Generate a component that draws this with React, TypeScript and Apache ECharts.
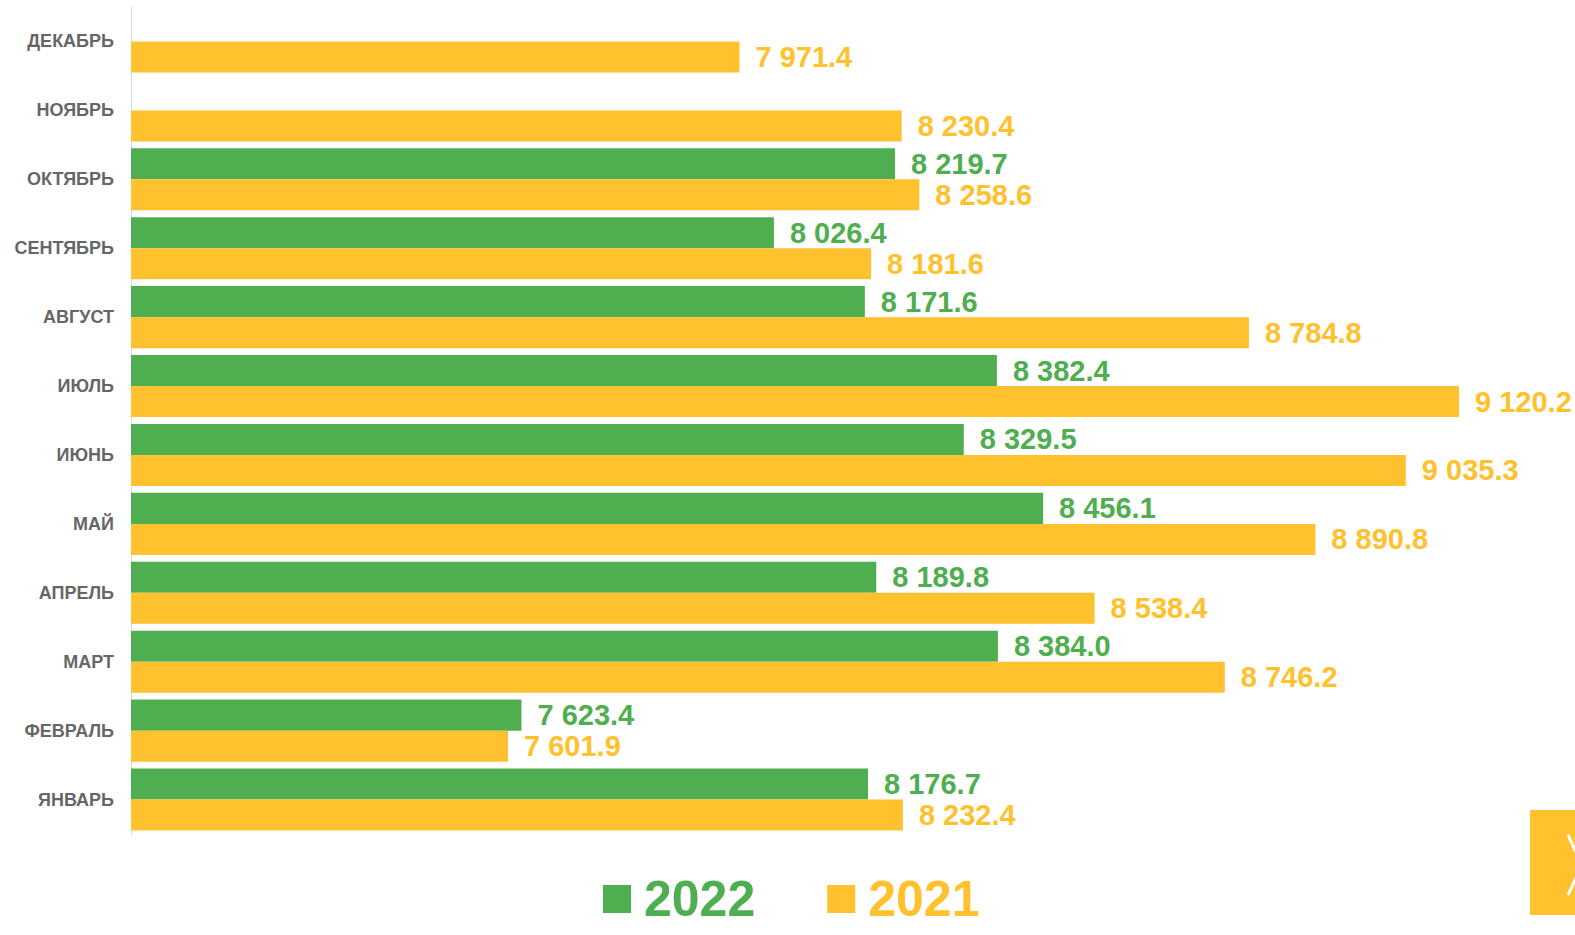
import React, { useEffect, useRef } from "react";
import * as echarts from "echarts";

const categories = ["ЯНВАРЬ", "ФЕВРАЛЬ", "МАРТ", "АПРЕЛЬ", "МАЙ", "ИЮНЬ", "ИЮЛЬ", "АВГУСТ", "СЕНТЯБРЬ", "ОКТЯБРЬ", "НОЯБРЬ", "ДЕКАБРЬ"];
const values2022: (number | null)[] = [8176.7, 7623.4, 8384.0, 8189.8, 8456.1, 8329.5, 8382.4, 8171.6, 8026.4, 8219.7, null, null];
const values2021: number[] = [8232.4, 7601.9, 8746.2, 8538.4, 8890.8, 9035.3, 9120.2, 8784.8, 8181.6, 8258.6, 8230.4, 7971.4];
const seriesNames = ["2022", "2021"];

const GREEN = "#4fae4f";
const YELLOW = "#ffc12d";
const FONT = "'Liberation Sans', Arial, sans-serif";

function fmt(v: number): string {
  const s = v.toFixed(1);
  const [i, d] = s.split(".");
  return i.replace(/\B(?=(\d{3})+(?!\d))/g, " ") + "." + d;
}

export default function App() {
  const ref = useRef<HTMLDivElement>(null);
  useEffect(() => {
    if (!ref.current) return;
    const chart = echarts.init(ref.current, null, { renderer: "svg" });
    const labelStyle = (color: string) => ({
      show: true,
      position: "right" as const,
      distance: 16,
      color,
      fontSize: 29,
      fontWeight: "bold" as const,
      fontFamily: FONT,
      formatter: (p: any) => (p.value == null ? "" : fmt(p.value)),
    });
    chart.setOption({
      animation: false,
      backgroundColor: "#ffffff",
      grid: { left: 131, top: 7, bottom: 101, width: 1378, containLabel: false },
      xAxis: {
        type: "value",
        min: 7000,
        max: 9200,
        show: false,
      },
      yAxis: {
        type: "category",
        data: categories,
        axisLine: { show: true, lineStyle: { color: "#d9d9d9", width: 1 } },
        axisTick: { show: false },
        axisLabel: {
          color: "#666666",
          fontSize: 18,
          fontWeight: "bold",
          fontFamily: FONT,
          margin: 17,
        },
        splitLine: { show: false },
      },
      legend: {
        left: 603,
        top: 874,
        itemWidth: 28,
        itemHeight: 28,
        itemGap: 72,
        icon: "rect",
        padding: 0,
        data: [
          { name: seriesNames[0], textStyle: { color: GREEN } },
          { name: seriesNames[1], textStyle: { color: YELLOW } },
        ],
        textStyle: {
          fontSize: 50,
          fontWeight: "bold",
          fontFamily: FONT,
          lineHeight: 50,
          padding: [0, 0, 0, 8],
        },
      },
      series: [
        {
          name: seriesNames[0],
          type: "bar",
          data: values2022,
          barGap: "0%",
          barCategoryGap: "10%",
          itemStyle: { color: GREEN },
          label: labelStyle(GREEN),
        },
        {
          name: seriesNames[1],
          type: "bar",
          data: values2021,
          barGap: "0%",
          barCategoryGap: "10%",
          itemStyle: { color: YELLOW },
          label: labelStyle(YELLOW),
        },
      ],
      graphic: [
        {
          type: "rect",
          shape: { x: 1530, y: 810, width: 50, height: 105 },
          style: { fill: YELLOW },
          z: 10,
        },
        {
          type: "polyline",
          shape: { points: [[1568, 835], [1582, 865], [1568, 895]] },
          style: { stroke: "#ffffff", lineWidth: 3, fill: "none" },
          z: 11,
        },
      ],
    });
    return () => chart.dispose();
  }, []);
  return (
    <div
      ref={ref}
      style={{ position: "fixed", left: 0, top: 0, width: 1575, height: 935, background: "#fff" }}
    />
  );
}
